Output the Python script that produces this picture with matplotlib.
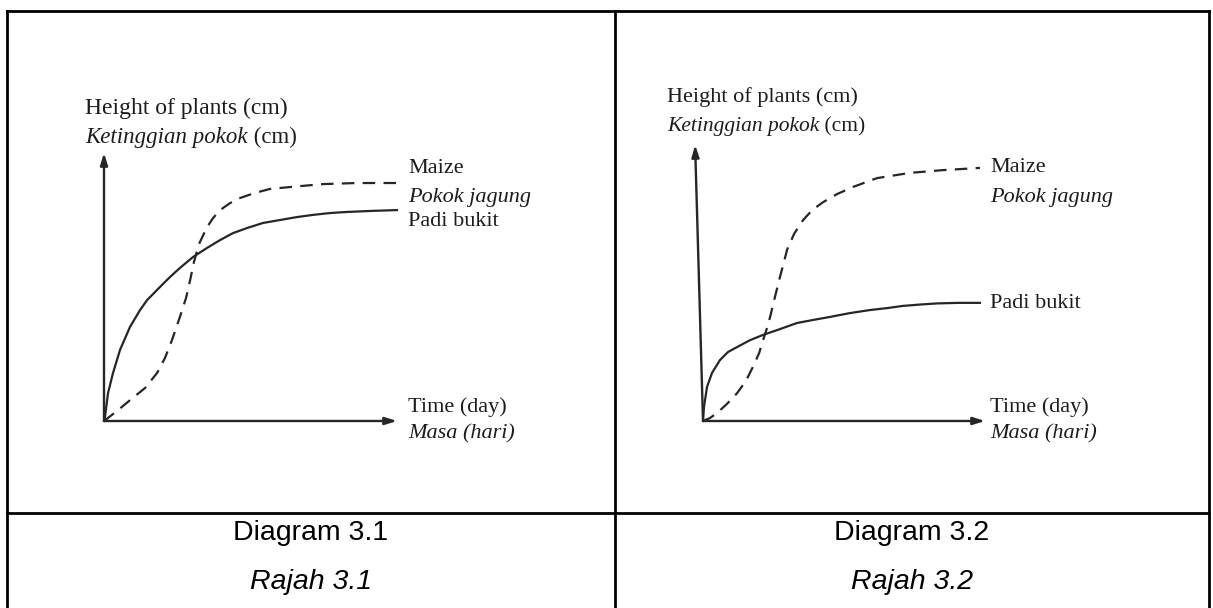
import matplotlib
matplotlib.use("Agg")
import matplotlib.pyplot as plt

# ---------------- data (arbitrary units 0-100) ----------------
# Diagram 3.1
d1_padi_time = [0, 0.34, 1.37, 3.07, 5.46, 8.87, 12.3, 14.7, 19.1, 22.5, 25.9, 30.4,
                35.2, 39.6, 44.0, 48.8, 54.3, 60.1, 65.9, 71.3, 77.1, 82.9, 91.5, 100]
d1_padi_height = [0, 1.5, 10.4, 17.9, 26.5, 35.1, 41.4, 45.1, 50.0, 53.7, 57.1, 61.2,
                  64.6, 67.5, 70.1, 72.0, 73.9, 75.0, 76.1, 76.9, 77.6, 78.0, 78.4, 78.7]
d1_maize_time = [0, 4.4, 8.9, 14.0, 18.1, 20.8, 23.2, 25.9, 28.0, 29.4, 30.7, 32.4,
                 35.2, 37.2, 39.6, 43.0, 46.4, 51.5, 56.7, 63.5, 74.7, 86.3, 100]
d1_maize_height = [0, 3.7, 7.8, 12.3, 17.9, 23.5, 30.2, 38.8, 45.9, 52.6, 59.3, 66.0,
                   72.4, 75.7, 78.7, 81.3, 83.2, 85.1, 86.6, 87.3, 88.4, 88.8, 88.8]

# Diagram 3.2
d2_padi_time = [0, 0.35, 1.42, 3.19, 6.03, 8.87, 12.1, 16.7, 21.3, 27.3, 33.3, 39.0,
                45.0, 52.1, 59.2, 65.2, 70.9, 77.0, 83.0, 90.4, 98.2]
d2_padi_height = [0, 5.1, 12.3, 17.4, 22.1, 25.0, 26.8, 29.3, 31.2, 33.3, 35.5, 36.6,
                  37.7, 39.1, 40.2, 40.9, 41.7, 42.2, 42.6, 42.8, 42.8]
d2_maize_time = [0, 2.5, 5.0, 8.5, 12.1, 15.2, 17.7, 19.9, 21.3, 22.7, 23.8, 25.5,
                 27.3, 28.7, 29.8, 32.3, 35.5, 38.7, 42.6, 47.5, 53.2, 61.7, 73.4,
                 85.1, 98.2]
d2_maize_height = [0, 1.1, 2.9, 6.2, 10.1, 14.5, 19.6, 24.6, 29.3, 33.7, 37.7, 44.9,
                   52.2, 57.6, 62.0, 67.8, 72.8, 76.4, 79.3, 82.2, 84.8, 88.0, 89.9,
                   90.9, 91.7]

y_title = "Height of plants (cm)"
y_title_ms = "Ketinggian pokok"
x_title = "Time (day)"
x_title_ms = "Masa (hari)"
maize_en = "Maize"
maize_ms = "Pokok jagung"
padi = "Padi bukit"
captions = ["Diagram 3.1", "Diagram 3.2"]
captions_ms = ["Rajah 3.1", "Rajah 3.2"]

# ---------------- figure ----------------
W, H = 1213, 608
DPI = 100
plt.rcParams['lines.scale_dashes'] = False
fig = plt.figure(figsize=(W / DPI, H / DPI), dpi=DPI)
fig.patch.set_facecolor("white")


def fx(x):
    return x / W


def fy(y):
    return 1 - y / H


INK = "#1c1c1c"
LINE = "#262626"
SERIF = "Liberation Serif"
SANS = "Liberation Sans"

# frame (table) in a full-figure overlay axes (pixel coordinates)
frame = fig.add_axes([0, 0, 1, 1])
frame.set_xlim(0, W)
frame.set_ylim(H, 0)
frame.axis("off")
fw = 2.0
frame.plot([7, 1209], [11, 11], color="black", lw=fw, solid_capstyle="projecting")
frame.plot([7, 7], [11, H], color="black", lw=fw)
frame.plot([1209, 1209], [11, H], color="black", lw=fw)
frame.plot([615, 615], [11, H], color="black", lw=fw)
frame.plot([7, 1209], [513, 513], color="black", lw=fw)

# captions
for cx, cap, capm in zip([311, 912], captions, captions_ms):
    fig.text(fx(cx), fy(533), cap, ha="center", va="center", fontsize=20.5,
             family=SANS, color="black")
    fig.text(fx(cx), fy(582), capm, ha="center", va="center", fontsize=20.5,
             family=SANS, style="italic", color="black")


def panel(origin, xtip, ytip, ytop_dx, padi_t, padi_h, maize_t, maize_h,
          title_xy, title2_y, label_x, maize_y, jag_y, padi_y, time_y, masa_y,
          fs_title, fs_label):
    ox, oy = origin
    ax = fig.add_axes([fx(ox), fy(oy), (xtip - ox) / W, (oy - ytip) / H])
    ax.set_xlim(0, 100)
    ax.set_ylim(0, 100)
    ax.axis("off")
    ax.patch.set_alpha(0)
    arrow = dict(arrowstyle="-|>,head_length=0.7,head_width=0.22", color=LINE,
                 lw=1.7, shrinkA=0, shrinkB=0)
    ax.annotate("", xy=(ytop_dx, 100), xytext=(0, 0), arrowprops=arrow,
                annotation_clip=False)
    ax.annotate("", xy=(100, 0), xytext=(0, 0), arrowprops=arrow,
                annotation_clip=False)
    ax.plot(padi_t, padi_h, color=LINE, lw=1.6, clip_on=False,
            solid_joinstyle="round")
    ax.plot(maize_t, maize_h, color=LINE, lw=1.6, clip_on=False,
            linestyle=(0, (9, 6)))

    tx, ty = title_xy
    fig.text(fx(tx), fy(ty), y_title, ha="left", va="center", fontsize=fs_title,
             family=SERIF, color=INK)
    t1 = fig.text(fx(tx), fy(title2_y), y_title_ms, ha="left", va="center",
                  fontsize=fs_title - 0.5, family=SERIF, style="italic", color=INK)
    ax.annotate(" (cm)", xy=(1, 0.5), xycoords=t1, ha="left", va="center",
                fontsize=fs_title - 0.5, family=SERIF, color=INK,
                annotation_clip=False)
    fig.text(fx(label_x), fy(maize_y), maize_en, ha="left", va="center",
             fontsize=fs_label, family=SERIF, color=INK)
    fig.text(fx(label_x), fy(jag_y), maize_ms, ha="left", va="center",
             fontsize=fs_label, family=SERIF, style="italic", color=INK)
    fig.text(fx(label_x), fy(padi_y), padi, ha="left", va="center",
             fontsize=fs_label, family=SERIF, color=INK)
    fig.text(fx(label_x), fy(time_y), x_title, ha="left", va="center",
             fontsize=fs_label, family=SERIF, color=INK)
    fig.text(fx(label_x), fy(masa_y), x_title_ms, ha="left", va="center",
             fontsize=fs_label, family=SERIF, style="italic", color=INK)


panel((104, 421), 397, 153, 0.0, d1_padi_time, d1_padi_height,
      d1_maize_time, d1_maize_height,
      (85, 108), 137, 408, 168, 198, 222, 407, 434, 17, 16)

panel((703, 421), 985, 145, -2.8, d2_padi_time, d2_padi_height,
      d2_maize_time, d2_maize_height,
      (667, 97), 127, 990, 167, 198, 303, 407, 434, 16, 16)

fig.savefig("out.png", dpi=DPI, facecolor="white")
